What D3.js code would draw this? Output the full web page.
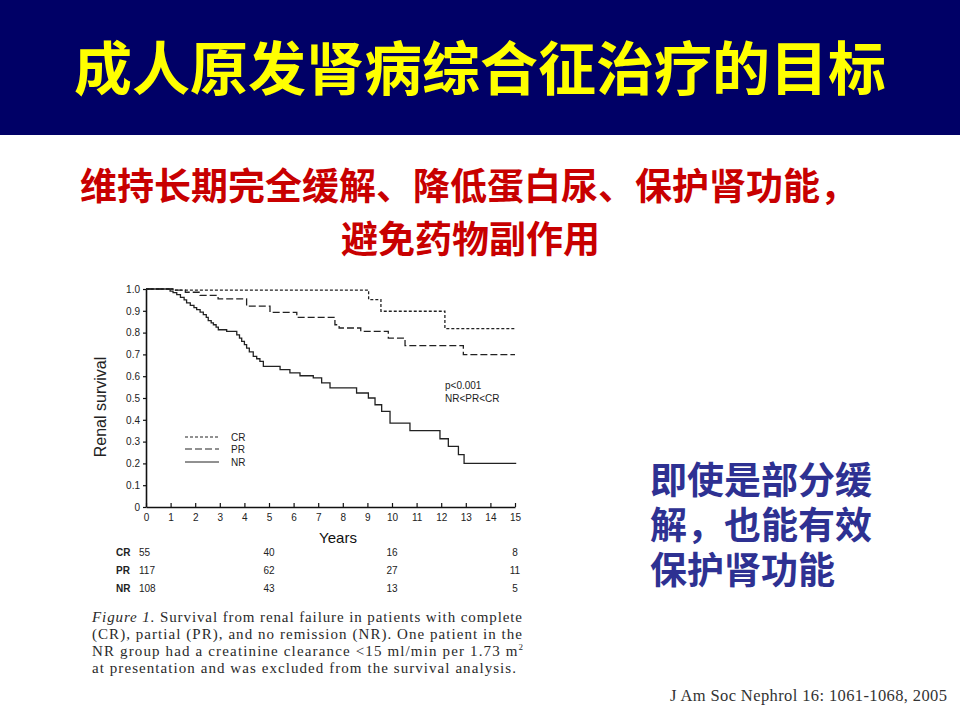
<!DOCTYPE html>
<html>
<head>
<meta charset="utf-8">
<script src="https://cdn.jsdelivr.net/npm/d3@7"></script>
<style>
    html, body { margin: 0; padding: 0; background: #fff; }
    svg { display: block; }
</style>
</head>
<body>
<svg id="slide" width="960" height="720"></svg>
<script>
// Kaplan-Meier steps (years, renal survival)
const crYears = [0, 1.1, 9.05, 9.55, 12.15, 15]
const crSurv = [1, 0.995, 0.951, 0.898, 0.818, 0.818]
const prYears = [0, 1.2, 1.6, 2.2, 2.93, 4.09, 5.04, 6.13, 7.68, 7.85, 8.73, 9.85, 10.53, 12.9, 15]
const prSurv = [1, 0.995, 0.985, 0.971, 0.955, 0.921, 0.893, 0.870, 0.836, 0.821, 0.806, 0.775, 0.740, 0.699, 0.699]
const nrYears = [0, 0.98, 1.1, 1.25, 1.4, 1.55, 1.65, 1.8, 1.95, 2.06, 2.2, 2.33, 2.45, 2.53, 2.65, 2.74, 2.85, 2.94,
    3.28, 3.69, 3.8, 3.89, 4.0, 4.09, 4.2, 4.36, 4.5, 4.63, 4.77, 5.45, 5.85, 6.26, 6.8, 7.14, 7.48, 8.56,
    9.04, 9.31, 9.58, 9.92, 10.73, 11.95, 12.29, 12.7, 12.93, 15.05]
const nrSurv = [1, 0.99, 0.983, 0.974, 0.962, 0.95, 0.936, 0.925, 0.915, 0.905, 0.894, 0.882, 0.87, 0.855, 0.845, 0.836, 0.825, 0.813,
    0.806, 0.790, 0.775, 0.760, 0.745, 0.729, 0.712, 0.691, 0.68, 0.668, 0.645, 0.63, 0.615, 0.602, 0.592, 0.569, 0.546, 0.523,
    0.50, 0.469, 0.439, 0.385, 0.35, 0.313, 0.278, 0.24, 0.20, 0.20]

const groups = ['CR', 'PR', 'NR']
const riskYears = [0, 5, 10, 15]
const riskCR = [55, 40, 16, 8]
const riskPR = [117, 62, 27, 11]
const riskNR = [108, 43, 13, 5]

const xTicks = d3.range(0, 16)
const yTicks = d3.range(0, 11).map(d => d / 10)

const titleText = '成人原发肾病综合征治疗的目标'
const goalLines = ['维持长期完全缓解、降低蛋白尿、保护肾功能，', '避免药物副作用']
const noteLines = ['即使是部分缓', '解，也能有效', '保护肾功能']
const captionLines = [
    'Survival from renal failure in patients with complete',
    '(CR), partial (PR), and no remission (NR). One patient in the',
    'NR group had a creatinine clearance <15 ml/min per 1.73 m',
    'at presentation and was excluded from the survival analysis.'
]
const citation = 'J Am Soc Nephrol 16: 1061-1068, 2005'

const svg = d3.select('#slide')
const cjk = '"Noto Sans CJK SC", "Noto Sans", sans-serif'
const sans = '"Liberation Sans", Arial, sans-serif'
const serif = '"Liberation Serif", "Times New Roman", serif'

// header band
svg.append('rect')
    .attr('x', 0).attr('y', 0)
    .attr('width', 960).attr('height', 135)
    .attr('fill', '#000066')
svg.append('text')
    .text(titleText)
    .attr('x', 480).attr('y', 90)
    .attr('text-anchor', 'middle')
    .attr('font-family', cjk)
    .attr('font-weight', 'bold')
    .attr('font-size', '58px')
    .attr('fill', '#ffff00')

// red goal lines
svg.append('text').text(goalLines[0])
    .attr('x', 80).attr('y', 200)
    .attr('font-family', cjk).attr('font-weight', 'bold').attr('font-size', '37px')
    .attr('fill', '#c80000')
svg.append('text').text(goalLines[1])
    .attr('x', 341).attr('y', 253)
    .attr('font-family', cjk).attr('font-weight', 'bold').attr('font-size', '37px')
    .attr('fill', '#c80000')

// blue note on the right, one text block with a tspan per line
svg.append('text')
    .attr('font-family', cjk).attr('font-weight', 'bold').attr('font-size', '37px')
    .attr('fill', '#2e3192')
    .selectAll('tspan')
    .data(noteLines)
    .enter()
    .append('tspan')
    .text(d => d)
    .attr('x', 650)
    .attr('y', (d, i) => 494 + i * 45)

svg.append('text').text(citation)
    .attr('x', 670).attr('y', 701)
    .attr('textLength', 277).attr('lengthAdjust', 'spacing')
    .attr('font-family', serif).attr('font-size', '16.5px')
    .attr('fill', '#333')

// survival chart
const x = d3.scaleLinear().domain([0, 15]).range([146, 515])
const y = d3.scaleLinear().domain([0, 1]).range([507, 289])

const xAxis = svg.append('g')
    .attr('transform', 'translate(0,' + y(0) + ')')
    .call(d3.axisBottom(x).tickValues(xTicks).tickSizeInner(-4).tickSizeOuter(0).tickPadding(7))
const yAxis = svg.append('g')
    .attr('transform', 'translate(' + x(0) + ',0)')
    .call(d3.axisLeft(y).tickValues(yTicks).tickSizeInner(3).tickSizeOuter(0).tickPadding(3)
        .tickFormat(d => d === 0 ? '0' : d3.format('.1f')(d)))
;[xAxis, yAxis].forEach(ax => {
    ax.select('.domain').attr('stroke', '#111').attr('stroke-width', 1.6)
    ax.selectAll('.tick line').attr('stroke', '#111').attr('stroke-width', 1.2)
    ax.selectAll('.tick text')
        .attr('font-family', sans).attr('font-size', '10px').attr('fill', '#222')
})

const step = d3.line()
    .x(d => x(d[0]))
    .y(d => y(d[1]))
    .curve(d3.curveStepAfter)
const series = [
    { key: 'CR', pts: d3.zip(crYears, crSurv), dash: '3,2' },
    { key: 'PR', pts: d3.zip(prYears, prSurv), dash: '7,3' },
    { key: 'NR', pts: d3.zip(nrYears, nrSurv), dash: null }
]
svg.append('g').selectAll('path')
    .data(series)
    .enter()
    .append('path')
    .attr('d', d => step(d.pts))
    .attr('fill', 'none')
    .attr('stroke', '#222')
    .attr('stroke-width', 1.3)
    .attr('stroke-dasharray', d => d.dash)

// legend
const legend = svg.append('g').selectAll('g')
    .data(series)
    .enter()
    .append('g')
    .attr('transform', (d, i) => 'translate(185,' + [437, 449, 462][i] + ')')
legend.append('line')
    .attr('x1', 0).attr('x2', 34).attr('y1', 0).attr('y2', 0)
    .attr('stroke', '#222').attr('stroke-width', 1)
    .attr('stroke-dasharray', d => d.dash)
legend.append('text')
    .text(d => d.key)
    .attr('x', 46).attr('y', 4)
    .attr('font-family', sans).attr('font-size', '10px').attr('fill', '#222')

svg.append('text').text('p<0.001')
    .attr('x', 445).attr('y', 389)
    .attr('font-family', sans).attr('font-size', '10px').attr('fill', '#222')
svg.append('text').text('NR<PR<CR')
    .attr('x', 445).attr('y', 402)
    .attr('font-family', sans).attr('font-size', '10px').attr('fill', '#222')

svg.append('text').text('Renal survival')
    .attr('transform', 'translate(106,407) rotate(-90)')
    .attr('text-anchor', 'middle')
    .attr('font-family', sans).attr('font-size', '16px').attr('fill', '#222')
svg.append('text').text('Years')
    .attr('x', 338).attr('y', 543)
    .attr('text-anchor', 'middle')
    .attr('font-family', sans).attr('font-size', '15px').attr('fill', '#111')

// numbers at risk
const riskRows = [riskCR, riskPR, riskNR]
const rows = svg.append('g').selectAll('g')
    .data(riskRows)
    .enter()
    .append('g')
    .attr('transform', (d, i) => 'translate(0,' + (556 + i * 18) + ')')
rows.append('text')
    .text((d, i) => groups[i])
    .attr('x', 116)
    .attr('font-family', sans).attr('font-weight', 'bold').attr('font-size', '10px').attr('fill', '#222')
rows.selectAll('.n')
    .data(d => d.map((v, j) => [riskYears[j], v]))
    .enter()
    .append('text')
    .attr('class', 'n')
    .text(d => d[1])
    .attr('x', d => d[0] === 0 ? x(0) - 7 : x(d[0]))
    .attr('text-anchor', d => d[0] === 0 ? 'start' : 'middle')
    .attr('font-family', sans).attr('font-size', '10px').attr('fill', '#222')

// figure caption, justified like the journal print
const caption = svg.append('g')
    .attr('font-family', serif).attr('font-size', '15px').attr('fill', '#2a2a2a')
const capWidths = [430, 430, 431, 424]
captionLines.forEach((line, i) => {
    const t = caption.append('text')
        .attr('x', 92).attr('y', 622 + i * 17)
        .attr('textLength', capWidths[i]).attr('lengthAdjust', 'spacing')
    if (i === 0) t.append('tspan').attr('font-style', 'italic').text('Figure 1. ')
    t.append('tspan').text(line)
    if (i === 2) {
        t.append('tspan').text('2')
            .attr('font-size', '9px')
            .attr('dy', -6)
    }
})
</script>
</body>
</html>
